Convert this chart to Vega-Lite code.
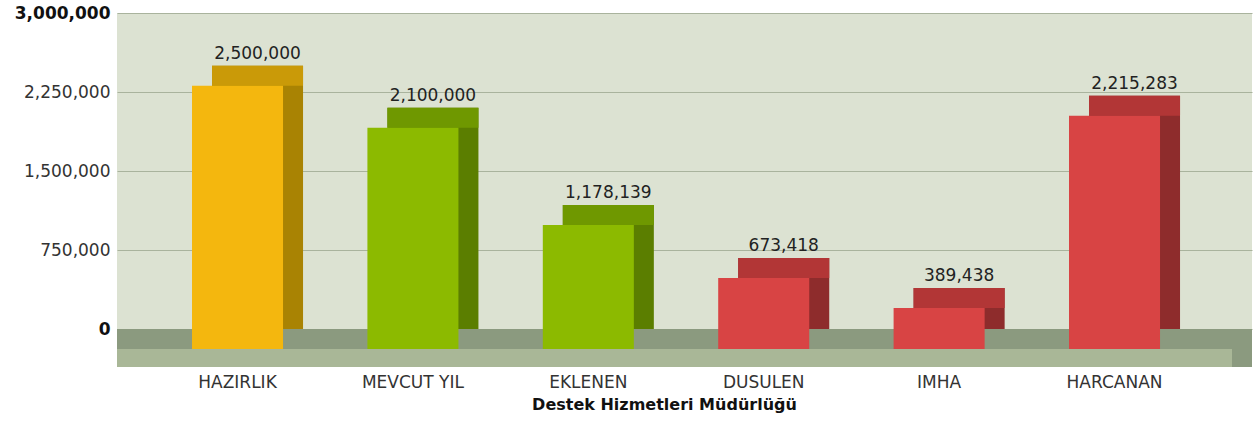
{
  "$schema": "https://vega.github.io/schema/vega-lite/v6.json",
  "width": 1135,
  "height": 354,
  "autosize": {"type": "none"},
  "padding": {"left": 117, "top": 13, "right": 3, "bottom": 56},
  "background": "white",
  "config": {
    "view": {"fill": "#DCE2D2", "stroke": null},
    "font": "DejaVu Sans"
  },
  "data": {
    "values": [
      {"kalem": "HAZIRLIK", "tutar": 2500000, "grup": "Hazırlık"},
      {"kalem": "MEVCUT YIL", "tutar": 2100000, "grup": "Ödenek"},
      {"kalem": "EKLENEN", "tutar": 1178139, "grup": "Ödenek"},
      {"kalem": "DUSULEN", "tutar": 673418, "grup": "Azalış"},
      {"kalem": "IMHA", "tutar": 389438, "grup": "Azalış"},
      {"kalem": "HARCANAN", "tutar": 2215283, "grup": "Azalış"}
    ]
  },
  "layer": [
    {
      "mark": {"type": "rect", "color": "#8B9A7F"},
      "encoding": {
        "y": {"datum": 0, "type": "quantitative", "title": null,
          "scale": {"domain": [-360000, 3000000], "nice": false, "zero": false},
          "axis": {
            "values": [0, 750000, 1500000, 2250000, 3000000],
            "format": ",d",
            "ticks": false,
            "domain": false,
            "grid": true,
            "gridColor": "#A9B39D",
            "gridWidth": 1,
            "labelPadding": 7,
            "labelFontSize": 17,
            "labelFont": "DejaVu Sans",
            "labelColor": {"condition": {"test": "datum.value == 0 || datum.value == 3000000", "value": "#111111"}, "value": "#333333"},
            "labelFontWeight": {"condition": {"test": "datum.value == 0 || datum.value == 3000000", "value": "bold"}, "value": "normal"}
          }
        },
        "y2": {"datum": -360000}
      }
    },
    {
      "mark": {"type": "rect", "color": "#A9B797", "xOffset": -20, "x2Offset": -20},
      "encoding": {
        "y": {"datum": -190000, "type": "quantitative", "title": null},
        "y2": {"datum": -360000}
      }
    },
    {
      "mark": {"type": "bar"},
      "encoding": {
        "x": {
          "field": "kalem", "type": "nominal", "sort": null,
          "title": "Destek Hizmetleri Müdürlüğü",
          "scale": {"paddingInner": 0.481, "paddingOuter": 0.476, "align": 0.569},
          "axis": {
            "titleFont": "DejaVu Sans",
            "titleFontSize": 16,
            "titleFontWeight": "bold",
            "titleColor": "#111111",
            "titlePadding": 6,
            "titleX": 547,
            "labelAngle": 0,
            "labelOffset": -20,
            "labelPadding": 7,
            "labelFontSize": 17,
            "labelFont": "DejaVu Sans",
            "labelColor": "#333333",
            "ticks": false,
            "domain": false,
            "grid": false
          }
        },
        "y": {"field": "tutar", "type": "quantitative", "title": null},
        "y2": {"datum": 0},
        "color": {"field": "grup", "type": "nominal", "legend": null,
          "scale": {"domain": ["Hazırlık", "Ödenek", "Azalış"], "range": ["#A98303", "#5B7E00", "#8E2C2C"]}}
      }
    },
    {
      "mark": {"type": "bar", "y2Offset": 20},
      "encoding": {
        "x": {"field": "kalem", "type": "nominal", "sort": null, "title": "Destek Hizmetleri Müdürlüğü"},
        "y": {"field": "tutar", "type": "quantitative", "title": null},
        "y2": {"field": "tutar"},
        "color": {"field": "grup", "type": "nominal", "legend": null,
          "scale": {"domain": ["Hazırlık", "Ödenek", "Azalış"], "range": ["#CA9A08", "#6F9800", "#B23636"]}}
      }
    },
    {
      "mark": {"type": "bar", "xOffset": -20, "x2Offset": -20, "yOffset": 20, "y2Offset": 20},
      "encoding": {
        "x": {"field": "kalem", "type": "nominal", "sort": null, "title": "Destek Hizmetleri Müdürlüğü"},
        "y": {"field": "tutar", "type": "quantitative", "title": null},
        "y2": {"datum": 0},
        "color": {"field": "grup", "type": "nominal", "legend": null,
          "scale": {"domain": ["Hazırlık", "Ödenek", "Azalış"], "range": ["#F4B70E", "#8CBA00", "#D84444"]}}
      }
    },
    {
      "mark": {"type": "text", "baseline": "alphabetic", "dy": -7, "fontSize": 17, "font": "DejaVu Sans", "color": "#222222"},
      "encoding": {
        "x": {"field": "kalem", "type": "nominal", "sort": null, "title": "Destek Hizmetleri Müdürlüğü"},
        "y": {"field": "tutar", "type": "quantitative", "title": null},
        "text": {"field": "tutar", "type": "quantitative", "format": ",d"}
      }
    }
  ],
  "resolve": {"scale": {"color": "independent"}}
}
